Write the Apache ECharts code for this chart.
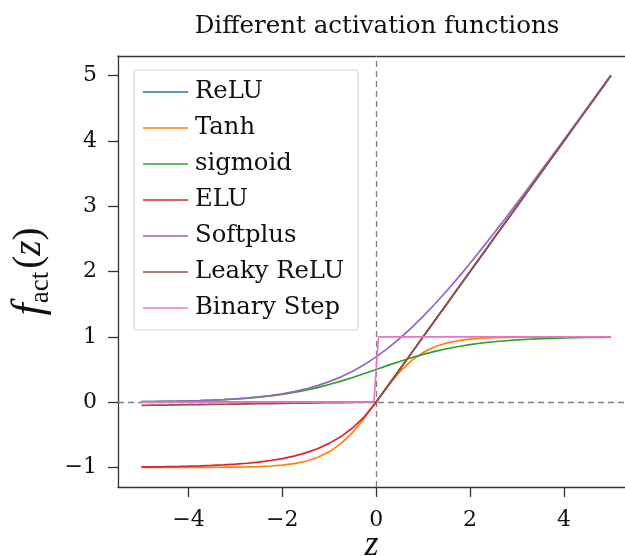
<!DOCTYPE html>
<html>
<head>
<meta charset="utf-8">
<script src="https://cdn.jsdelivr.net/npm/echarts@6/dist/echarts.min.js"></script>
<style>
html,body{margin:0;padding:0;background:#fff;}
#chart{width:625px;height:556px;}
</style>
</head>
<body>
<div id="chart"></div>
<script>
// ---- data ----
const titleText = 'Different activation functions';
const seriesNames = ['ReLU', 'Tanh', 'sigmoid', 'ELU', 'Softplus', 'Leaky ReLU', 'Binary Step'];
const colors = ['#1f77b4', '#ff7f0e', '#2ca02c', '#d62728', '#9467bd', '#8c564b', '#e377c2'];
const zValues = [-5, -4.75, -4.5, -4.25, -4, -3.75, -3.5, -3.25, -3, -2.75, -2.5, -2.25, -2, -1.75, -1.5, -1.25, -1, -0.75, -0.5, -0.25,
  0, 0.25, 0.5, 0.75, 1, 1.25, 1.5, 1.75, 2, 2.25, 2.5, 2.75, 3, 3.25, 3.5, 3.75, 4, 4.25, 4.5, 4.75, 5];
const reluValues = [0, 0, 0, 0, 0, 0, 0, 0, 0, 0, 0, 0, 0, 0, 0, 0, 0, 0, 0, 0,
  0, 0.25, 0.5, 0.75, 1, 1.25, 1.5, 1.75, 2, 2.25, 2.5, 2.75, 3, 3.25, 3.5, 3.75, 4, 4.25, 4.5, 4.75, 5];
const tanhValues = [-0.99991, -0.99985, -0.99975, -0.99959, -0.99933, -0.99889, -0.99818, -0.99700, -0.99505, -0.99186,
  -0.98661, -0.97803, -0.96403, -0.94138, -0.90515, -0.84828, -0.76159, -0.63515, -0.46212, -0.24492,
  0, 0.24492, 0.46212, 0.63515, 0.76159, 0.84828, 0.90515, 0.94138, 0.96403, 0.97803,
  0.98661, 0.99186, 0.99505, 0.99700, 0.99818, 0.99889, 0.99933, 0.99959, 0.99975, 0.99985, 0.99991];
const sigmoidValues = [0.00669, 0.00858, 0.01099, 0.01406, 0.01799, 0.02298, 0.02931, 0.03733, 0.04743, 0.06009,
  0.07586, 0.09535, 0.11920, 0.14805, 0.18243, 0.22270, 0.26894, 0.32082, 0.37754, 0.43782,
  0.5, 0.56218, 0.62246, 0.67918, 0.73106, 0.77730, 0.81757, 0.85195, 0.88080, 0.90465,
  0.92414, 0.93991, 0.95257, 0.96267, 0.97069, 0.97702, 0.98201, 0.98594, 0.98901, 0.99142, 0.99331];
const eluValues = [-0.99326, -0.99135, -0.98889, -0.98574, -0.98168, -0.97648, -0.96980, -0.96123, -0.95021, -0.93607,
  -0.91792, -0.89460, -0.86466, -0.82623, -0.77687, -0.71350, -0.63212, -0.52763, -0.39347, -0.22120,
  0, 0.25, 0.5, 0.75, 1, 1.25, 1.5, 1.75, 2, 2.25, 2.5, 2.75, 3, 3.25, 3.5, 3.75, 4, 4.25, 4.5, 4.75, 5];
const softplusValues = [0.00672, 0.00861, 0.01105, 0.01416, 0.01815, 0.02325, 0.02975, 0.03804, 0.04859, 0.06196,
  0.07889, 0.10019, 0.12693, 0.16022, 0.20141, 0.25192, 0.31326, 0.38687, 0.47408, 0.57593,
  0.69315, 0.82593, 0.97408, 1.13687, 1.31326, 1.50192, 1.70141, 1.91022, 2.12693, 2.35019,
  2.57889, 2.81196, 3.04859, 3.28804, 3.52975, 3.77325, 4.01815, 4.26416, 4.51105, 4.75861, 5.00672];
const leakyValues = [-0.05, -0.0475, -0.045, -0.0425, -0.04, -0.0375, -0.035, -0.0325, -0.03, -0.0275,
  -0.025, -0.0225, -0.02, -0.0175, -0.015, -0.0125, -0.01, -0.0075, -0.005, -0.0025,
  0, 0.25, 0.5, 0.75, 1, 1.25, 1.5, 1.75, 2, 2.25, 2.5, 2.75, 3, 3.25, 3.5, 3.75, 4, 4.25, 4.5, 4.75, 5];
const stepZ = [-5, -0.05, 0.05, 5];
const stepValues = [0, 0, 1, 1];
const xTicks = [-4, -2, 0, 2, 4];
const yTicks = [-1, 0, 1, 2, 3, 4, 5];

// ---- chart ----
const pair = (xs, ys) => xs.map((x, i) => [x, ys[i]]);
const curveData = [
  pair(zValues, reluValues),
  pair(zValues, tanhValues),
  pair(zValues, sigmoidValues),
  pair(zValues, eluValues),
  pair(zValues, softplusValues),
  pair(zValues, leakyValues),
  pair(stepZ, stepValues)
];

const serif = 'DejaVu Serif';
const mathSerif = 'Liberation Serif';
const fmt = v => String(v).replace('-', '\u2212');

const series = seriesNames.map((name, i) => ({
  name: name,
  type: 'line',
  data: curveData[i],
  symbol: 'none',
  smooth: false,
  lineStyle: {color: colors[i], width: 1.7},
  itemStyle: {color: colors[i]},
  z: 2 + i,
  animation: false
}));
series.push({
  type: 'line',
  data: [],
  symbol: 'none',
  z: 20,
  animation: false,
  markLine: {
    silent: true,
    symbol: 'none',
    label: {show: false},
    animation: false,
    lineStyle: {color: '#7f7f7f', type: [6, 4], width: 1.3},
    data: [{xAxis: 0}, {yAxis: 0}]
  }
});

const axisColor = '#333';
const chart = echarts.init(document.getElementById('chart'), null, {renderer: 'canvas'});
chart.setOption({
  backgroundColor: '#fff',
  animation: false,
  color: colors,
  title: {
    text: titleText,
    left: 372,
    textAlign: 'center',
    top: 9,
    textStyle: {fontFamily: serif, fontSize: 24.5, fontWeight: 'normal', color: '#111'}
  },
  legend: {
    data: seriesNames.map(n => ({name: n, icon: 'rect'})),
    orient: 'vertical',
    left: 134,
    top: 70,
    padding: [8, 14, 8, 9],
    itemWidth: 45,
    itemHeight: 1.6,
    itemGap: 8,
    borderColor: '#d0d0d0',
    borderWidth: 1,
    borderRadius: 3,
    backgroundColor: 'rgba(255,255,255,0.8)',
    textStyle: {fontFamily: serif, fontSize: 24.3, color: '#111', lineHeight: 28, padding: [0, 0, 0, 2]}
  },
  grid: {
    left: 118, top: 56, width: 507, height: 431,
    show: false,
    outerBoundsMode: 'none',
    containLabel: false
  },
  xAxis: [{
    type: 'value', min: -5.5, max: 5.3,
    name: '{zi|z}', nameLocation: 'middle', nameGap: 41, nameMoveOverlap: false,
    nameTextStyle: {rich: {zi: {fontFamily: mathSerif, fontStyle: 'italic', fontSize: 36, color: '#111'}}},
    axisLine: {show: true, onZero: false, lineStyle: {color: axisColor, width: 1.3}},
    axisTick: {show: true, length: 10, customValues: xTicks, lineStyle: {color: axisColor, width: 1.3}},
    axisLabel: {customValues: xTicks, formatter: fmt, margin: 22, fontFamily: serif, fontSize: 22, color: '#111'},
    splitLine: {show: false}
  }, {
    type: 'value', min: -5.5, max: 5.3, position: 'top',
    axisLine: {show: true, onZero: false, lineStyle: {color: axisColor, width: 1.3}},
    axisTick: {show: false}, axisLabel: {show: false}, splitLine: {show: false}
  }],
  yAxis: {
    type: 'value', min: -1.3, max: 5.3,
    name: '{f|f}{s|act}{p|(}{zi|z}{p|)}', nameLocation: 'middle', nameGap: 64, nameRotate: 90, nameMoveOverlap: false,
    nameTextStyle: {rich: {
      f: {fontFamily: mathSerif, fontStyle: 'italic', fontSize: 44, color: '#111', lineHeight: 48, verticalAlign: 'middle'},
      s: {fontFamily: mathSerif, fontSize: 27, color: '#111', lineHeight: 48, verticalAlign: 'bottom', padding: [16, 3, 0, 0]},
      p: {fontFamily: mathSerif, fontSize: 39, color: '#111', lineHeight: 48, verticalAlign: 'middle'},
      zi: {fontFamily: mathSerif, fontStyle: 'italic', fontSize: 39, color: '#111', lineHeight: 48, verticalAlign: 'middle'}
    }},
    axisLine: {show: true, onZero: false, lineStyle: {color: axisColor, width: 1.3}},
    axisTick: {show: true, length: 10, customValues: yTicks, lineStyle: {color: axisColor, width: 1.3}},
    axisLabel: {customValues: yTicks, formatter: fmt, margin: 21, fontFamily: serif, fontSize: 22, color: '#111'},
    splitLine: {show: false}
  },
  series: series
});
</script>
</body>
</html>
